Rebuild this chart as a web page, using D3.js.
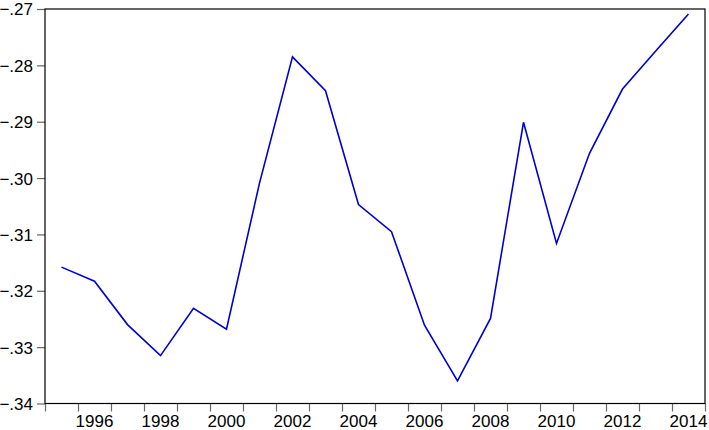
<!DOCTYPE html>
<html>
<head>
<meta charset="utf-8">
<script src="https://cdn.jsdelivr.net/npm/d3@7"></script>
<style>
  body { margin: 0; background: #fff; }
  svg text { font-family: "Liberation Sans", Arial, sans-serif; font-size: 17px; fill: #000; }
</style>
</head>
<body>
<div id="chart"></div>
<script>
// annual values
var years = [1995, 1996, 1997, 1998, 1999, 2000, 2001, 2002, 2003, 2004,
             2005, 2006, 2007, 2008, 2009, 2010, 2011, 2012, 2013, 2014];
var values = [-.3158, -.3183, -.3260, -.3315, -.3231, -.3268, -.3009, -.2785, -.2845, -.3047,
              -.3095, -.3261, -.3360, -.3249, -.2901, -.3116, -.2956, -.2842, -.2775, -.2709];
var yTicks = [-.34, -.33, -.32, -.31, -.30, -.29, -.28, -.27];
var xLabelYears = [1996, 1998, 2000, 2002, 2004, 2006, 2008, 2010, 2012, 2014];

var svgWidth = 709, svgHeight = 430;
var plot = { left: 45, right: 705, top: 9, bottom: 403.5 };

var svg = d3.select("#chart").append("svg")
    .attr("width", svgWidth).attr("height", svgHeight);

// each year owns one slot, points sit in the middle of it
var xScale = d3.scaleLinear().domain([1995, 2015]).range([plot.left, plot.right]);
var yScale = d3.scaleLinear().domain([-.34, -.27]).range([plot.bottom, plot.top]);

// y axis ticks + labels
var yAxis = d3.axisLeft(yScale)
    .tickValues(yTicks)
    .tickSize(8)
    .tickPadding(4)
    .tickFormat(d => d3.format(".2f")(d).replace("0.", "."));
var yG = svg.append("g").attr("transform", `translate(${plot.left},0)`).call(yAxis);
yG.select(".domain").remove();
yG.selectAll(".tick line").attr("stroke", "#666").attr("stroke-width", 1.2);
yG.selectAll(".tick text").attr("font-size", 17).attr("dy", "0.35em");

// x axis: ticks on every year boundary, labels on even years
var xAxis = d3.axisBottom(xScale)
    .tickValues(d3.range(1995, 2016))
    .tickSize(8)
    .tickFormat("");
var xG = svg.append("g").attr("transform", `translate(0,${plot.bottom})`).call(xAxis);
xG.select(".domain").remove();
xG.selectAll(".tick line").attr("stroke", "#666").attr("stroke-width", 1.2);

svg.append("g").selectAll("text")
    .data(xLabelYears).enter()
    .append("text")
    .attr("x", d => xScale(d + 0.5))
    .attr("y", 426.5)
    .attr("text-anchor", "middle")
    .text(d => d);

// frame
svg.append("rect")
    .attr("x", plot.left).attr("y", plot.top)
    .attr("width", plot.right - plot.left).attr("height", plot.bottom - plot.top)
    .attr("fill", "none").attr("stroke", "#000").attr("stroke-width", 1.2);

// series line
var line = d3.line()
    .x((d, i) => xScale(years[i] + 0.5))
    .y(d => yScale(d));

svg.append("path")
    .datum(values)
    .attr("d", line)
    .attr("fill", "none")
    .attr("stroke", "#0000d0")
    .attr("stroke-width", 1.6)
    .attr("stroke-linejoin", "miter");
</script>
</body>
</html>
